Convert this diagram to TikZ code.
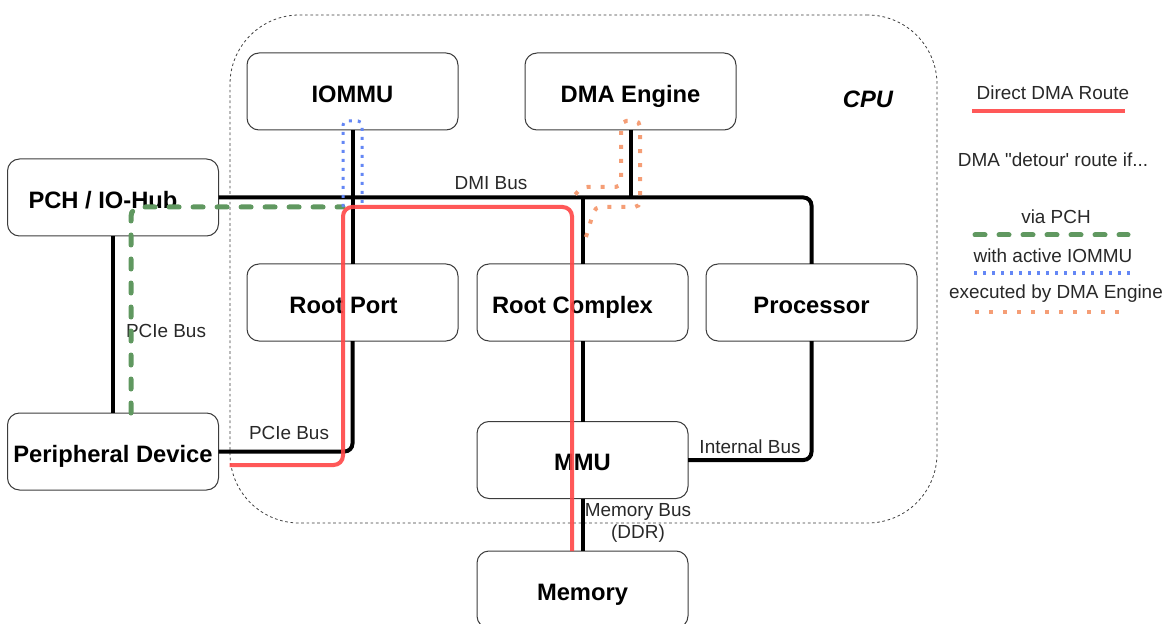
\documentclass[tikz,border=0pt]{standalone}
\usepackage{fontspec}
\setmainfont{Liberation Sans}[Ligatures=TeXOff]
\usetikzlibrary{calc}
\definecolor{routered}{RGB}{255,70,70}
\definecolor{pchgreen}{RGB}{96,152,96}
\definecolor{mmublue}{RGB}{100,135,245}
\definecolor{dmaorange}{RGB}{245,158,118}
\definecolor{edge}{RGB}{60,60,60}
\definecolor{labelgray}{RGB}{40,40,40}
\begin{document}
\begin{tikzpicture}[x=0.75pt,y=-0.75pt,
  unitbox/.style={draw=edge, line width=0.75pt, rounded corners=9pt, fill=white,
    minimum width=158.25pt, minimum height=57.75pt, inner sep=0pt, outer sep=0pt,
    text height=15.9pt, text depth=0pt,
    font=\fontsize{17.8}{20}\selectfont\bfseries},
  bus/.style={line width=3pt, black, rounded corners=6pt},
  buslabel/.style={font=\fontsize{14.2}{17}\selectfont, text=labelgray, inner sep=0pt, align=center},
  direct/.style={line width=3pt, routered, opacity=0.9, rounded corners=7pt},
  viapch/.style={line width=3.75pt, pchgreen, line cap=round, dash pattern=on 7.5pt off 10.5pt, rounded corners=7pt},
  viaiommu/.style={line width=2.25pt, mmublue, dash pattern=on 2.25pt off 4.5pt, rounded corners=3pt},
  viadma/.style={line width=3pt, dmaorange, dash pattern=on 3pt off 7.5pt, rounded corners=4pt},
  container/.style={draw=edge, line width=0.6pt, dash pattern=on 2pt off 2pt, rounded corners=52pt,
    minimum width=530.25pt, minimum height=381pt, inner sep=0pt}
]
\useasboundingbox (0,0) rectangle (1168,624);

% CPU package outline
\node[container] (cpu) at (583.5,269) {};
\node[font=\fontsize{17.8}{20}\selectfont\bfseries\itshape, inner sep=0pt] (cpulabel) at (868,99) {CPU};

% components (some labels sit a little left of their box centre)
\node[unitbox] (iommu) at (352.5,91.5) {IOMMU};
\node[unitbox] (dma)   at (630.5,91.5) {DMA Engine};
\node[unitbox] (pch)   at (113,197.5)  {PCH / IO-Hub\kern15pt};
\node[unitbox] (rp)    at (352.5,302.5) {Root Port\kern13.5pt};
\node[unitbox] (rc)    at (582.5,302.5) {Root Complex\kern15pt};
\node[unitbox] (proc)  at (811.5,302.5) {Processor};
\node[unitbox] (pd)    at (113,451.5)  {Peripheral Device};
\node[unitbox] (mmu)   at (582.5,460)  {MMU};
\node[unitbox] (mem)   at (582.5,589.5) {Memory};

% buses
\draw[bus] (pch.east) -| (proc.north);
\draw[bus] (iommu.south) -- (rp.north);
\draw[bus] (dma.south) -- (dma.south |- pch.east);
\draw[bus] (rc.north) -- (rc.north |- pch.east);
\draw[bus] (rc.south) -- (mmu.north);
\draw[bus] (proc.south) |- (mmu.east);
\draw[bus] (rp.south) |- (pd.east);
\draw[bus] (pch.south) -- (pd.north);
\draw[bus] (mmu.south) -- (mem.north);

% bus labels
\node[buslabel] (dmilbl)  at (491,183) {DMI Bus};
\node[buslabel] (pcie1)   at (166,331) {PCIe Bus};
\node[buslabel] (pcie2)   at (289,433) {PCIe Bus};
\node[buslabel] (intlbl)  at (750,447) {Internal Bus};
\node[buslabel] (memlbl)  at (638,523) {Memory Bus\\(DDR)};

% DMA routes
\draw[viapch] ($(pd.north)+(18,0)$) |- (343,207);
\draw[viaiommu] (343,207) -- (343,121) -- (362,121) -- (362,207);
\draw[viadma] (586,237) -- (595,207) -- (640,207) -- (640,121) -- (621,121) -- (621,187) -- (582,187) -- (573,197);
\draw[direct] ($(pd.east)+(11,13.5)$) -| (343,207) -| ($(mem.north)+(-10.5,0)$);

% legend
\node[buslabel] (lg1) at (1053,93)  {Direct DMA Route};
\draw[direct] (972,111) -- (1125,111);
\node[buslabel] (lg2) at (1053,160) {DMA "detour' route if...};
\node[buslabel] (lg3) at (1056,217) {via PCH};
\draw[viapch] (975,235) -- (1128,235);
\node[buslabel] (lg4) at (1053,256) {with active IOMMU};
\draw[viaiommu] (974,273) -- (1130,273);
\node[buslabel] (lg5) at (1056,294) {executed by DMA Engine};
\draw[viadma] (975,312) -- (1125,312);
\end{tikzpicture}
\end{document}
